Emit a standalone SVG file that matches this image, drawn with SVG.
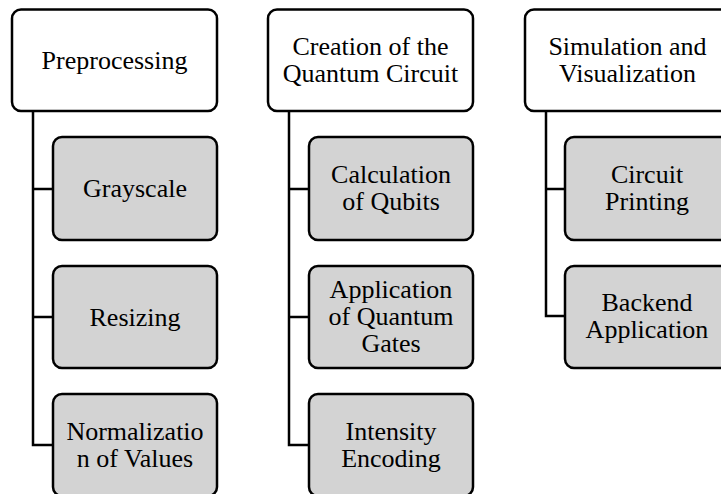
<svg xmlns="http://www.w3.org/2000/svg" width="721" height="494" viewBox="0 0 721 494">
<style>
.p{fill:#fff;stroke:#000;stroke-width:2.5}
.c{fill:#d3d3d3;stroke:#000;stroke-width:2.5}
.t{font-family:"Liberation Serif","Times New Roman",serif;font-size:26px;fill:#000;text-anchor:middle}
.l{fill:none;stroke:#000;stroke-width:2.5}
</style>
<rect width="721" height="494" fill="#fff"/>
<g id="connectors">
<path class="l" d="M33 111V445H53M33 189H53M33 317H53"/>
<path class="l" d="M289 111V445H309M289 189H309M289 317H309"/>
<path class="l" d="M546 111V316H565M546 189H565"/>
</g>
<g id="preprocessing"><rect class="p" x="12" y="9.5" width="205" height="101.5" rx="9"/><text class="t" x="114.5" y="69">Preprocessing</text></g>
<g id="grayscale"><rect class="c" x="53" y="137" width="164" height="103" rx="9"/><text class="t" x="135" y="197">Grayscale</text></g>
<g id="resizing"><rect class="c" x="53" y="266" width="164" height="102" rx="9"/><text class="t" x="135" y="326">Resizing</text></g>
<g id="normalization"><rect class="c" x="53" y="394" width="164" height="102" rx="9"/><text class="t" x="135" y="440">Normalizatio</text><text class="t" x="135" y="467">n of Values</text></g>
<g id="creation"><rect class="p" x="268" y="9.5" width="205" height="101.5" rx="9"/><text class="t" x="370.5" y="55">Creation of the</text><text class="t" x="370.5" y="82">Quantum Circuit</text></g>
<g id="qubits"><rect class="c" x="309" y="137" width="164" height="103" rx="9"/><text class="t" x="391" y="183">Calculation</text><text class="t" x="391" y="210">of Qubits</text></g>
<g id="gates"><rect class="c" x="309" y="266" width="164" height="102" rx="9"/><text class="t" x="391" y="298">Application</text><text class="t" x="391" y="325">of Quantum</text><text class="t" x="391" y="352">Gates</text></g>
<g id="intensity"><rect class="c" x="309" y="394" width="164" height="102" rx="9"/><text class="t" x="391" y="440">Intensity</text><text class="t" x="391" y="467">Encoding</text></g>
<g id="simulation"><rect class="p" x="525" y="9.5" width="205" height="101.5" rx="9"/><text class="t" x="627.5" y="55">Simulation and</text><text class="t" x="627.5" y="82">Visualization</text></g>
<g id="printing"><rect class="c" x="565" y="137" width="164" height="103" rx="9"/><text class="t" x="647" y="183">Circuit</text><text class="t" x="647" y="210">Printing</text></g>
<g id="backend"><rect class="c" x="565" y="266" width="164" height="102" rx="9"/><text class="t" x="647" y="311">Backend</text><text class="t" x="647" y="338">Application</text></g>
</svg>
